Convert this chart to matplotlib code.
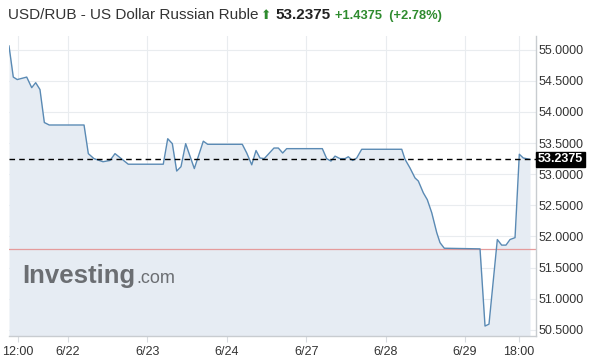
import matplotlib
matplotlib.use("Agg")
import matplotlib.pyplot as plt
from matplotlib.ticker import FormatStrFormatter

# ---- data (x in trading-day units, 6/22 = 0) ----
x_pos = [-0.743, -0.689, -0.639, -0.520, -0.457, -0.407, -0.353, -0.298, -0.236, 0.202,
         0.256, 0.327, 0.441, 0.529, 0.592, 0.759, 1.200, 1.256, 1.314, 1.369,
         1.423, 1.482, 1.591, 1.704, 1.759, 2.195, 2.251, 2.314, 2.368, 2.418,
         2.472, 2.594, 2.649, 2.704, 2.754, 3.203, 3.258, 3.312, 3.363, 3.426,
         3.489, 3.530, 3.586, 3.636, 3.699, 4.203, 4.244, 4.307, 4.370, 4.412,
         4.475, 4.525, 4.581, 4.644, 4.685, 4.739, 5.189, 5.252, 5.302, 5.407,
         5.462, 5.516, 5.567, 5.630, 5.684, 5.734, 5.819]
prices = [55.06, 54.56, 54.52, 54.56, 54.39, 54.47, 54.36, 53.83, 53.79, 53.79,
          53.33, 53.25, 53.20, 53.22, 53.33, 53.16, 53.16, 53.57, 53.49, 53.05,
          53.12, 53.49, 53.09, 53.53, 53.48, 53.48, 53.34, 53.15, 53.38, 53.26,
          53.25, 53.42, 53.42, 53.34, 53.41, 53.41, 53.25, 53.21, 53.29, 53.25,
          53.25, 53.28, 53.22, 53.26, 53.40, 53.40, 53.24, 53.10, 52.94, 52.89,
          52.70, 52.59, 52.38, 52.06, 51.90, 51.81, 51.80, 50.56, 50.59, 51.95,
          51.86, 51.86, 51.95, 51.98, 53.32, 53.26, 53.2375]
last_price = 53.2375
prev_close = 51.80
change = "+1.4375"
change_pct = "(+2.78%)"
tick_pos = [-0.63, 0, 1, 2, 3, 4, 5, 5.68]
tick_labels = ["12:00", "6/22", "6/23", "6/24", "6/27", "6/28", "6/29", "18:00"]
y_ticks = [50.5, 51.0, 51.5, 52.0, 52.5, 53.0, 53.5, 54.0, 54.5, 55.0]

plt.rcParams['font.family'] = ['Liberation Sans', 'DejaVu Sans']

W, H = 590, 357
fig = plt.figure(figsize=(W / 100, H / 100), dpi=100)
fig.patch.set_facecolor('white')
ax = fig.add_axes([9 / W, 1 - 336 / H, (536 - 9) / W, (336 - 36) / H])
ax.set_facecolor('white')

ymin, ymax = 50.40, 55.22
ax.fill_between(x_pos, prices, ymin, color='#e6ecf3', zorder=1, lw=0)
ax.plot(x_pos, prices, color='#5a8ab4', lw=1.0, zorder=3)
ax.axhline(prev_close, color='#e59b9b', lw=0.9, zorder=2)
ax.axhline(last_price, color='black', lw=1.0, ls=(0, (4, 3)), zorder=4)

ax.set_xlim(-0.743, 5.894)
ax.set_ylim(ymin, ymax)
ax.set_xticks(tick_pos)
ax.set_xticklabels(tick_labels)
ax.set_yticks(y_ticks)
ax.yaxis.set_major_formatter(FormatStrFormatter('%.4f'))
ax.yaxis.tick_right()
ax.grid(True, color='#e9ecef', lw=0.8, zorder=0)
ax.set_axisbelow(True)
for s in ['top', 'left']:
    ax.spines[s].set_visible(False)
for s in ['right', 'bottom']:
    ax.spines[s].set_color('#c8ccd0')
    ax.spines[s].set_linewidth(1.0)
ax.tick_params(axis='x', length=4, color='#d8dbe0', labelsize=9, labelcolor='#333333', pad=3)
ax.tick_params(axis='y', length=0, labelsize=9, labelcolor='#333333', pad=1.5)

# last price label box
ax.text(1.004, last_price, f"{last_price:.4f}", transform=ax.get_yaxis_transform(),
        ha='left', va='center', fontsize=9, fontweight='bold', color='white',
        bbox=dict(boxstyle='square,pad=0.15', facecolor='black', edgecolor='black'), zorder=10,
        clip_on=False)

# logo
fig.text(22 / W, 1 - 283 / H, "Investing", fontsize=18.5, fontweight='bold', color='#6b6e72',
         ha='left', va='baseline')
fig.text(136 / W, 1 - 283 / H, ".com", fontsize=13, color='#6b6e72', ha='left', va='baseline')

# header
fig.text(8 / W, 1 - 19 / H, "USD/RUB - US Dollar Russian Ruble", fontsize=11, color='#333333',
         ha='left', va='baseline')
fig.text(261 / W, 1 - 19 / H, "⬆", fontsize=9, color='#2e8b2e', family='DejaVu Sans',
         ha='left', va='baseline')
fig.text(275 / W, 1 - 19 / H, f"{last_price:.4f}", fontsize=11, fontweight='bold', color='#222222',
         ha='left', va='baseline')
fig.text(335 / W, 1 - 19 / H, f"{change}  {change_pct}", fontsize=9.3, fontweight='bold', color='#2e8b2e',
         ha='left', va='baseline')

fig.savefig('out.png', dpi=100, facecolor='white')
